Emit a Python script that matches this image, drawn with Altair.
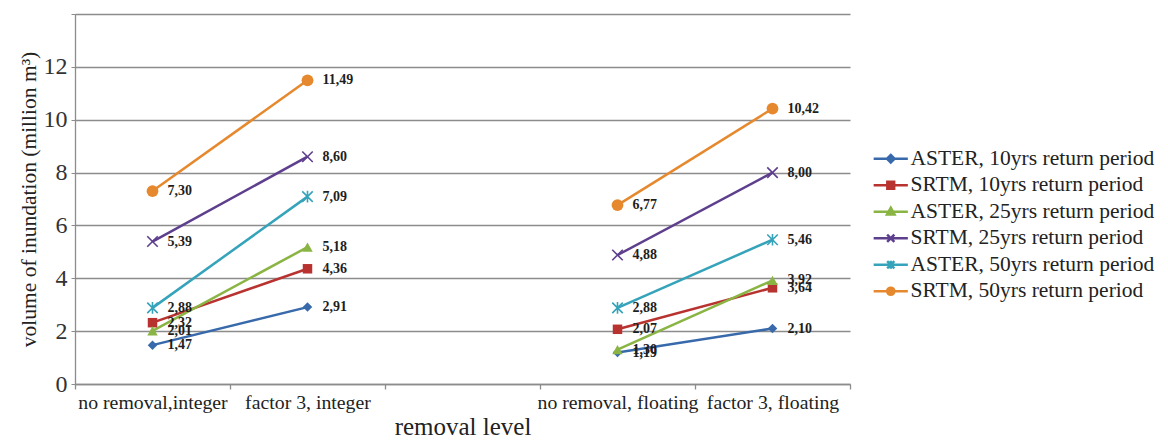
import altair as alt
import pandas as pd

levels = ["no removal,integer", "factor 3, integer", "no removal, floating", "factor 3, floating"]
groups = ["integer", "integer", "floating", "floating"]
x_domain = ["no removal,integer", "factor 3, integer", " ", "no removal, floating", "factor 3, floating"]

series_names = [
    "ASTER, 10yrs return period",
    "SRTM, 10yrs return period",
    "ASTER, 25yrs return period",
    "SRTM, 25yrs return period",
    "ASTER, 50yrs return period",
    "SRTM, 50yrs return period",
]
aster10 = [1.47, 2.91, 1.19, 2.10]
srtm10 = [2.32, 4.36, 2.07, 3.64]
aster25 = [2.01, 5.18, 1.30, 3.92]
srtm25 = [5.39, 8.60, 4.88, 8.00]
aster50 = [2.88, 7.09, 2.88, 5.46]
srtm50 = [7.30, 11.49, 6.77, 10.42]
all_values = [aster10, srtm10, aster25, srtm25, aster50, srtm50]

colors = ["#3769ab", "#b8322f", "#8ab443", "#5e3f8e", "#35a3ba", "#e6892e"]

X_PATH = "M-1,-1L1,1M-1,1L1,-1"
point_styles = [
    dict(shape="diamond", filled=True, size=90),
    dict(shape="square", filled=True, size=90),
    dict(shape="triangle-up", filled=True, size=110),
    dict(shape=X_PATH, filled=False, size=110),
    dict(shape=X_PATH + "M0,-1.1L0,1.1", filled=False, size=110),
    dict(shape="circle", filled=True, size=140),
]

LINE = "M-1.9,0L1.9,0"
legend_paths = [
    LINE + "M0,-0.42L0.42,0L0,0.42L-0.42,0Z",
    LINE + "M-0.38,-0.38L0.38,-0.38L0.38,0.38L-0.38,0.38Z",
    LINE + "M0,-0.45L0.42,0.3L-0.42,0.3Z",
    LINE + "M-0.4,-0.4L0.4,0.4M-0.4,0.4L0.4,-0.4",
    LINE + "M-0.4,-0.4L0.4,0.4M-0.4,0.4L0.4,-0.4M0,-0.45L0,0.45",
    LINE + "M0.4,0A0.4,0.4,0,1,1,-0.4,0A0.4,0.4,0,1,1,0.4,0Z",
]

rows = []
for name, vals in zip(series_names, all_values):
    for lvl, grp, v in zip(levels, groups, vals):
        rows.append({"series": name, "level": lvl, "group": grp, "value": v})
df = pd.DataFrame(rows)

FONT = "Liberation Serif"
GRID = "#8c8c8c"

x_enc = alt.X(
    "level:N",
    sort=x_domain,
    scale=alt.Scale(type="band", domain=x_domain, paddingInner=0, paddingOuter=0),
    axis=alt.Axis(
        title="removal level",
        labelAngle=0,
        tickBand="extent",
        grid=False,
        domainColor=GRID,
        domainWidth=1.3,
        tickColor=GRID,
        tickWidth=1.3,
        tickSize=5,
        labelFont=FONT,
        labelFontSize=19.8,
        labelColor="#222222",
        labelPadding=3,
        titleFont=FONT,
        titleFontSize=25,
        titleFontWeight="normal",
        titleColor="#222222",
        titlePadding=3,
    ),
)
y_enc = alt.Y(
    "value:Q",
    scale=alt.Scale(domain=[0, 14], nice=False),
    axis=alt.Axis(
        title="volume of inundation (million m³)",
        values=[0, 2, 4, 6, 8, 10, 12, 14],
        labelExpr="datum.value == 14 ? '' : datum.label",
        grid=True,
        gridColor=GRID,
        gridWidth=1.3,
        domainColor=GRID,
        domainWidth=1.3,
        tickColor=GRID,
        tickSize=4,
        labelFont=FONT,
        labelFontSize=24,
        labelColor="#333333",
        labelPadding=4,
        titleFont=FONT,
        titleFontSize=21.5,
        titleFontWeight="normal",
        titleColor="#222222",
        titlePadding=3,
    ),
)

base = alt.Chart(df)

lines = base.mark_line(strokeWidth=2.5).encode(
    x=x_enc,
    y=y_enc,
    stroke=alt.Stroke("series:N", scale=alt.Scale(domain=series_names, range=colors), legend=None),
    detail="group:N",
)

point_layers = []
for name, col, st in zip(series_names, colors, point_styles):
    if st["filled"]:
        mk = base.mark_point(shape=st["shape"], filled=True, color=col, size=st["size"], opacity=1)
    else:
        mk = base.mark_point(shape=st["shape"], filled=False, stroke=col, strokeWidth=1.6, size=st["size"], opacity=1)
    point_layers.append(mk.transform_filter(alt.datum.series == name).encode(x=x_enc, y=y_enc))

labels = base.transform_calculate(
    lab="replace(format(datum.value, '.2f'), '.', ',')"
).mark_text(
    align="left", baseline="middle", dx=15, font=FONT, fontSize=14, fontWeight="bold", color="#1e1e1e"
).encode(x=x_enc, y=y_enc, text="lab:N")

legend_layer = base.transform_filter("false").mark_point(filled=True, opacity=1, strokeWidth=2.5).encode(
    x=x_enc,
    y=y_enc,
    color=alt.Color(
        "series:N",
        scale=alt.Scale(domain=series_names, range=colors),
        legend=alt.Legend(
            title=" ",
            titleFontSize=10,
            titlePadding=124,
            orient="right",
            offset=30,
            symbolSize=324,
            symbolStrokeWidth=2.5,
            symbolStrokeColor="transparent",
            labelFont=FONT,
            labelFontSize=21.5,
            labelColor="#222222",
            labelOffset=9,
            rowPadding=3.5,
            labelLimit=400,
        ),
    ),
    shape=alt.Shape("series:N", scale=alt.Scale(domain=series_names, range=legend_paths)),
)

chart = alt.layer(legend_layer, lines, *point_layers, labels).properties(
    width=775,
    height=370,
    autosize=alt.AutoSizeParams(type="none"),
    padding={"left": 67, "top": 6, "right": 310, "bottom": 56},
).configure_view(stroke=None)

chart.save("out.html", embed_options={"renderer": "svg", "actions": False})
